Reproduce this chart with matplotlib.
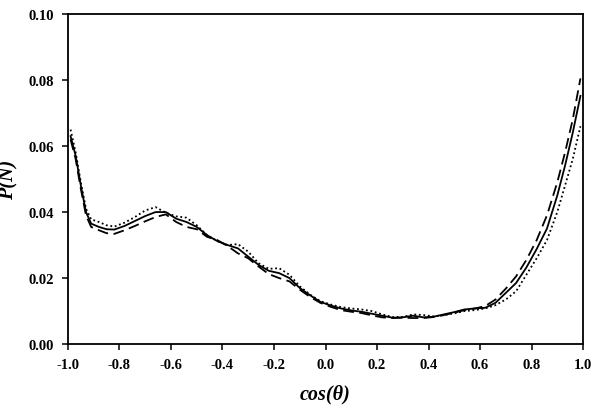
import numpy as np
import matplotlib.pyplot as plt

plt.rcParams['font.family'] = ['Liberation Serif', 'DejaVu Serif']
plt.rcParams['font.weight'] = 'bold'

x = [-0.99, -0.97, -0.95, -0.93, -0.91, -0.88, -0.85, -0.82, -0.78, -0.74,
     -0.70, -0.66, -0.62, -0.58, -0.54, -0.50, -0.46, -0.42, -0.38, -0.34,
     -0.30, -0.26, -0.22, -0.18, -0.14, -0.10, -0.06, -0.02, 0.02, 0.06,
     0.10, 0.14, 0.18, 0.22, 0.26, 0.30, 0.34, 0.38, 0.42, 0.46,
     0.50, 0.54, 0.58, 0.62, 0.66, 0.70, 0.74, 0.78, 0.82, 0.86,
     0.90, 0.93, 0.96, 0.99]

p_solid = [0.063, 0.057, 0.048, 0.040, 0.0365, 0.0355, 0.0348, 0.0347, 0.0358, 0.0373,
           0.0388, 0.0400, 0.0400, 0.0380, 0.0370, 0.0355, 0.0330, 0.0312, 0.0300, 0.0290,
           0.0265, 0.0240, 0.0222, 0.0215, 0.0200, 0.0170, 0.0148, 0.0128, 0.0117, 0.0108,
           0.0102, 0.0098, 0.0092, 0.0086, 0.0080, 0.0081, 0.0086, 0.0081, 0.0083, 0.0090,
           0.0097, 0.0105, 0.0108, 0.0110, 0.0125, 0.0155, 0.0185, 0.0232, 0.0288, 0.0350,
           0.0450, 0.0540, 0.0640, 0.0752]

p_dashed = [0.062, 0.056, 0.047, 0.039, 0.0355, 0.0345, 0.0336, 0.0334, 0.0345, 0.0358,
            0.0372, 0.0385, 0.0393, 0.0370, 0.0355, 0.0348, 0.0325, 0.0315, 0.0297, 0.0275,
            0.0260, 0.0235, 0.0212, 0.0200, 0.0190, 0.0165, 0.0143, 0.0125, 0.0113, 0.0103,
            0.0098, 0.0094, 0.0087, 0.0081, 0.0079, 0.0080, 0.0079, 0.0079, 0.0082, 0.0088,
            0.0095, 0.0103, 0.0108, 0.0115, 0.0135, 0.0168, 0.0205, 0.0255, 0.0315, 0.0390,
            0.0490, 0.0580, 0.0680, 0.0805]

p_dotted = [0.065, 0.058, 0.049, 0.041, 0.0378, 0.0370, 0.0360, 0.0356, 0.0368, 0.0385,
            0.0405, 0.0415, 0.0398, 0.0387, 0.0383, 0.0360, 0.0330, 0.0312, 0.0300, 0.0303,
            0.0280, 0.0245, 0.0228, 0.0230, 0.0210, 0.0175, 0.0150, 0.0130, 0.0120, 0.0112,
            0.0108, 0.0105, 0.0100, 0.0090, 0.0082, 0.0082, 0.0090, 0.0088, 0.0084, 0.0088,
            0.0093, 0.0100, 0.0103, 0.0108, 0.0118, 0.0135, 0.0160, 0.0210, 0.0260, 0.0315,
            0.0400, 0.0480, 0.0560, 0.0660]

xticks = [-1.0, -0.8, -0.6, -0.4, -0.2, 0.0, 0.2, 0.4, 0.6, 0.8, 1.0]
yticks = [0.00, 0.02, 0.04, 0.06, 0.08, 0.10]

fig = plt.figure(figsize=(6, 4.06), dpi=100)
ax = fig.add_axes([0.1133, 0.150, 0.8584, 0.813])

ax.plot(x, p_solid, color='black', lw=1.3, ls='-')
ax.plot(x, p_dashed, color='black', lw=1.3, ls=(0, (6, 3)))
ax.plot(x, p_dotted, color='black', lw=1.3, ls=(0, (1, 1.5)))

ax.set_xlim(-1.0, 1.0)
ax.set_ylim(0.0, 0.10)
ax.set_xticks(xticks)
ax.set_yticks(yticks)
ax.set_xticklabels(['%.1f' % v for v in xticks])
ax.set_yticklabels(['%.2f' % v for v in yticks])
ax.tick_params(direction='out', length=4, width=1.1, labelsize=10.5, pad=6)
for s in ax.spines.values():
    s.set_linewidth(1.3)

ax.set_xlabel('cos(θ)', fontsize=14.5, fontstyle='italic', fontweight='bold', labelpad=9)
ax.set_ylabel('P(N)', fontsize=14.5, fontstyle='italic', fontweight='bold', labelpad=7)

fig.savefig('out.png', dpi=100)
